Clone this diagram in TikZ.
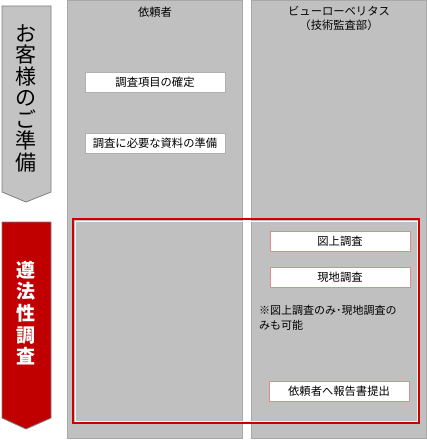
\documentclass[tikz,border=0pt]{standalone}
\usepackage{fontspec}
\setmainfont{Noto Sans CJK JP}
\definecolor{colgray}{HTML}{C0C0C0}
\definecolor{colgrayedge}{HTML}{A8A8A8}
\definecolor{arrgray}{HTML}{C3C3C3}
\definecolor{arredge}{HTML}{7F7F7F}
\definecolor{bvred}{HTML}{C00000}
\definecolor{framered}{HTML}{CC0000}
\definecolor{pinkedge}{HTML}{E08A8A}
\definecolor{boxedge}{HTML}{B0B0B0}
\begin{document}
\begin{tikzpicture}[x=1pt,y=-1pt,
  lane/.style={draw=colgrayedge,fill=colgray,line width=0.8pt},
  stepL/.style={draw=boxedge,fill=white,line width=0.8pt,minimum width=140pt,minimum height=20pt,inner sep=0pt,font=\fontsize{11.3}{13}\selectfont},
  stepR/.style={draw=pinkedge,fill=white,line width=1pt,minimum width=140pt,minimum height=20pt,inner sep=0pt,font=\fontsize{11.3}{13}\selectfont},
  head/.style={font=\fontsize{11.3}{14.5}\selectfont,align=center,inner sep=0pt},
  vtext/.style={align=center,inner sep=0pt}
]
\useasboundingbox (0,0) rectangle (427,441);
\fill[white] (0,0) rectangle (427,441);
% lanes
\draw[lane] (67,0) rectangle (242,438);
\draw[lane] (251,0) rectangle (426.5,438);
% arrows
\draw[draw=arredge,fill=arrgray,line width=0.8pt] (2,6) -- (51,6) -- (51,192) -- (26,202) -- (2,192) -- cycle;
\draw[draw=arredge,fill=bvred,line width=0.8pt] (2,222) -- (51,222) -- (51,418) -- (26,429) -- (2,418) -- cycle;
\node[vtext,font=\fontsize{21}{21.5}\selectfont] (prep) at (26,98) {お\\客\\様\\の\\ご\\準\\備};
\node[vtext,text=white,font=\fontsize{19}{21.7}\selectfont\bfseries] (comp) at (26,313) {遵\\法\\性\\調\\査};
% headers
\node[head] (h1) at (155,12) {依頼者};
\node[head] (h2) at (339,18.5) {ビューローベリタス\\（技術監査部）};
% red frame
\draw[draw=framered,line width=2pt] (73,219) rectangle (419,423);
\draw[draw=white!85!colgray,line width=0.6pt] (75,221) rectangle (417,421);
% boxes
\node[stepL] (b1) at (155,82) {調査項目の確定};
\node[stepL] (b2) at (155,143) {調査に必要な資料の準備};
\node[stepR] (r1) at (340,241) {図上調査};
\node[stepR] (r2) at (340,277) {現地調査};
\node[stepR] (r3) at (339,391) {依頼者へ報告書提出};
\node[anchor=north west,align=left,inner sep=0pt,font=\fontsize{11}{15.5}\selectfont] (note) at (259,305) {※図上調査のみ･現地調査の\\みも可能};
\end{tikzpicture}
\end{document}
